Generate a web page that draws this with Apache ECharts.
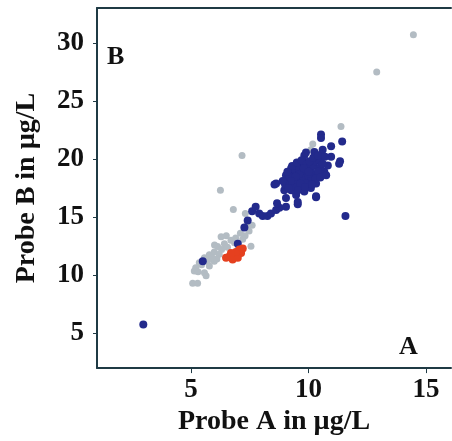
<!DOCTYPE html>
<html>
<head>
<meta charset="utf-8">
<script src="https://cdn.jsdelivr.net/npm/echarts@6/dist/echarts.min.js"></script>
<style>
html,body{margin:0;padding:0;background:#fff;overflow:hidden;}
#chart{width:452px;height:441px;}
</style>
</head>
<body>
<div id="chart"></div>
<script>
var xTicks = [5, 10, 15];
var yTicks = [5, 10, 15, 20, 25, 30];

var greyPoints = [
  [14.46,30.7],[12.9,27.5],[11.38,22.8],[7.17,20.3],[6.25,17.3],[6.8,15.65],[7.31,15.3],[10.18,21.3],[10.1,20.8],[10.4,20.0],
  [7.47,13.8],[7.3,13.4],[7.55,12.5],[7.2,13.1],[6.28,13.3],[6.7,13.0],[6.42,12.7],[6.13,12.46],[5.99,12.0],[5.78,11.76],
  [5.57,11.5],[5.35,11.06],[5.2,10.64],[5.14,10.36],[5.57,10.2],[5.07,9.3],[5.28,9.3],[5.64,9.95],[5.99,11.2],[5.78,10.8],
  [6.3,12.2],[6.55,12.4],[6.0,12.6],[6.2,11.8],[5.9,11.5],[5.45,10.9],[6.5,13.4],[6.9,13.2],[7.0,12.2],[6.1,11.4],
  [5.7,11.2],[7.1,13.6],[6.85,12.8],[5.3,10.3],[7.35,14.2],[7.6,14.3]
];

var bluePoints = [
  [2.97,5.75],[5.5,11.2],[6.99,12.7],[7.27,14.1],[7.41,14.7],[7.6,15.5],[7.75,15.9],[7.9,15.3],[8.05,15.1],[8.25,15.1],
  [8.4,15.3],[8.62,15.6],[8.76,15.8],[9.04,15.9],[8.66,16.2],[9.54,16.1],[9.54,16.3],[10.32,16.7],[11.57,15.1],[8.55,17.8],
  [8.62,17.9],[9.04,16.65],[9.47,16.9],[9.82,17.2],[10.1,17.5],[10.32,17.9],[10.32,16.8],[9.18,17.8],[9.04,18.6],[9.26,19.2],
  [9.54,19.45],[9.82,19.7],[9.97,19.2],[9.68,18.6],[9.4,18.3],[9.11,18.2],[9.97,18.2],[9.54,17.8],[9.26,17.3],[8.97,17.3],
  [10.25,18.6],[10.67,18.9],[10.82,19.45],[10.96,20.2],[11.34,19.8],[11.3,19.6],[9.82,20.3],[10.25,20.6],[10.6,20.8],[10.55,20.4],
  [10.96,21.1],[11.43,21.5],[10.53,22.1],[10.53,21.8],[9.89,20.56],
  [9.3,18.8],[9.45,19.0],[9.6,19.1],[9.75,18.9],[9.9,18.7],[9.2,18.5],[9.35,18.0],[9.5,18.2],[9.65,18.4],[9.8,18.3],
  [10.0,18.5],[10.1,19.0],[10.2,19.4],[10.3,19.8],[10.45,19.9],[10.5,19.3],[10.4,18.9],[10.1,18.1],[9.9,17.9],[9.7,17.6],
  [9.4,17.6],[9.2,17.9],[9.1,18.9],[9.3,19.4],[9.5,19.7],[9.7,19.9],[9.9,19.5],[10.05,19.8],[10.2,20.1],[9.6,18.7],
  [9.8,19.2],[10.0,18.9],[9.45,18.5],[9.25,18.1],[9.65,17.9],[10.3,18.3],[10.6,19.6],[10.7,20.2],[10.4,20.3],[9.0,17.8],
  [8.9,18.1],[9.15,17.5],[9.55,17.3],[9.85,17.6],[10.15,17.8],[10.5,18.4],[10.75,18.6]
];

var redPoints = [
  [6.63,11.6],[6.84,11.76],[7.06,12.2],[7.13,11.9],[6.77,11.34],[6.49,11.5],[6.99,11.5],[6.91,12.0],[6.7,11.9],[7.2,12.3]
];

var FONT = '"Liberation Serif","Times New Roman",serif';
var AXIS_COLOR = '#1f3a44';

var chart = echarts.init(document.getElementById('chart'), null, {renderer: 'canvas'});
chart.setOption({
  animation: false,
  backgroundColor: '#fff',
  grid: {left: 97, top: 8, right: 1, bottom: 68, show: false},
  xAxis: [{
    type: 'value', min: 1, max: 16.06,
    name: 'Probe A in µg/L', nameLocation: 'middle', nameGap: 36,
    nameTextStyle: {fontFamily: FONT, fontWeight: 'bold', fontSize: 28, color: '#111'},
    splitLine: {show: false},
    axisLine: {show: true, lineStyle: {color: AXIS_COLOR, width: 2}},
    axisTick: {show: true, length: 5, lineStyle: {color: AXIS_COLOR, width: 1}, customValues: xTicks},
    axisLabel: {customValues: xTicks, fontFamily: FONT, fontWeight: 'bold', fontSize: 27, color: '#111', margin: 8}
  }, {
    type: 'value', min: 1, max: 16.06, position: 'top',
    splitLine: {show: false},
    axisLine: {show: true, onZero: false, lineStyle: {color: AXIS_COLOR, width: 2}},
    axisTick: {show: false},
    axisLabel: {show: false}
  }],
  yAxis: {
    type: 'value', min: 2, max: 33,
    name: 'Probe B in µg/L', nameLocation: 'middle', nameGap: 56,
    nameTextStyle: {fontFamily: FONT, fontWeight: 'bold', fontSize: 28, color: '#111'},
    splitLine: {show: false},
    axisLine: {show: true, onZero: false, lineStyle: {color: AXIS_COLOR, width: 2}},
    axisTick: {show: true, length: 4, lineStyle: {color: AXIS_COLOR, width: 1}, customValues: yTicks},
    axisLabel: {customValues: yTicks, fontFamily: FONT, fontWeight: 'bold', fontSize: 27, color: '#111', margin: 13}
  },
  graphic: [
    {type: 'text', left: 107, top: 44, style: {text: 'B', font: 'bold 26px ' + FONT, fill: '#111'}},
    {type: 'text', left: 399, top: 334, style: {text: 'A', font: 'bold 26px ' + FONT, fill: '#111'}}
  ],
  series: [
    {type: 'scatter', data: greyPoints, symbolSize: 7, itemStyle: {color: '#b3bcc3', opacity: 1}},
    {type: 'scatter', data: bluePoints, symbolSize: 8, itemStyle: {color: '#232a8c', opacity: 1}},
    {type: 'scatter', data: redPoints, symbolSize: 8, itemStyle: {color: '#e5401f', opacity: 1}}
  ]
});
</script>
</body>
</html>
